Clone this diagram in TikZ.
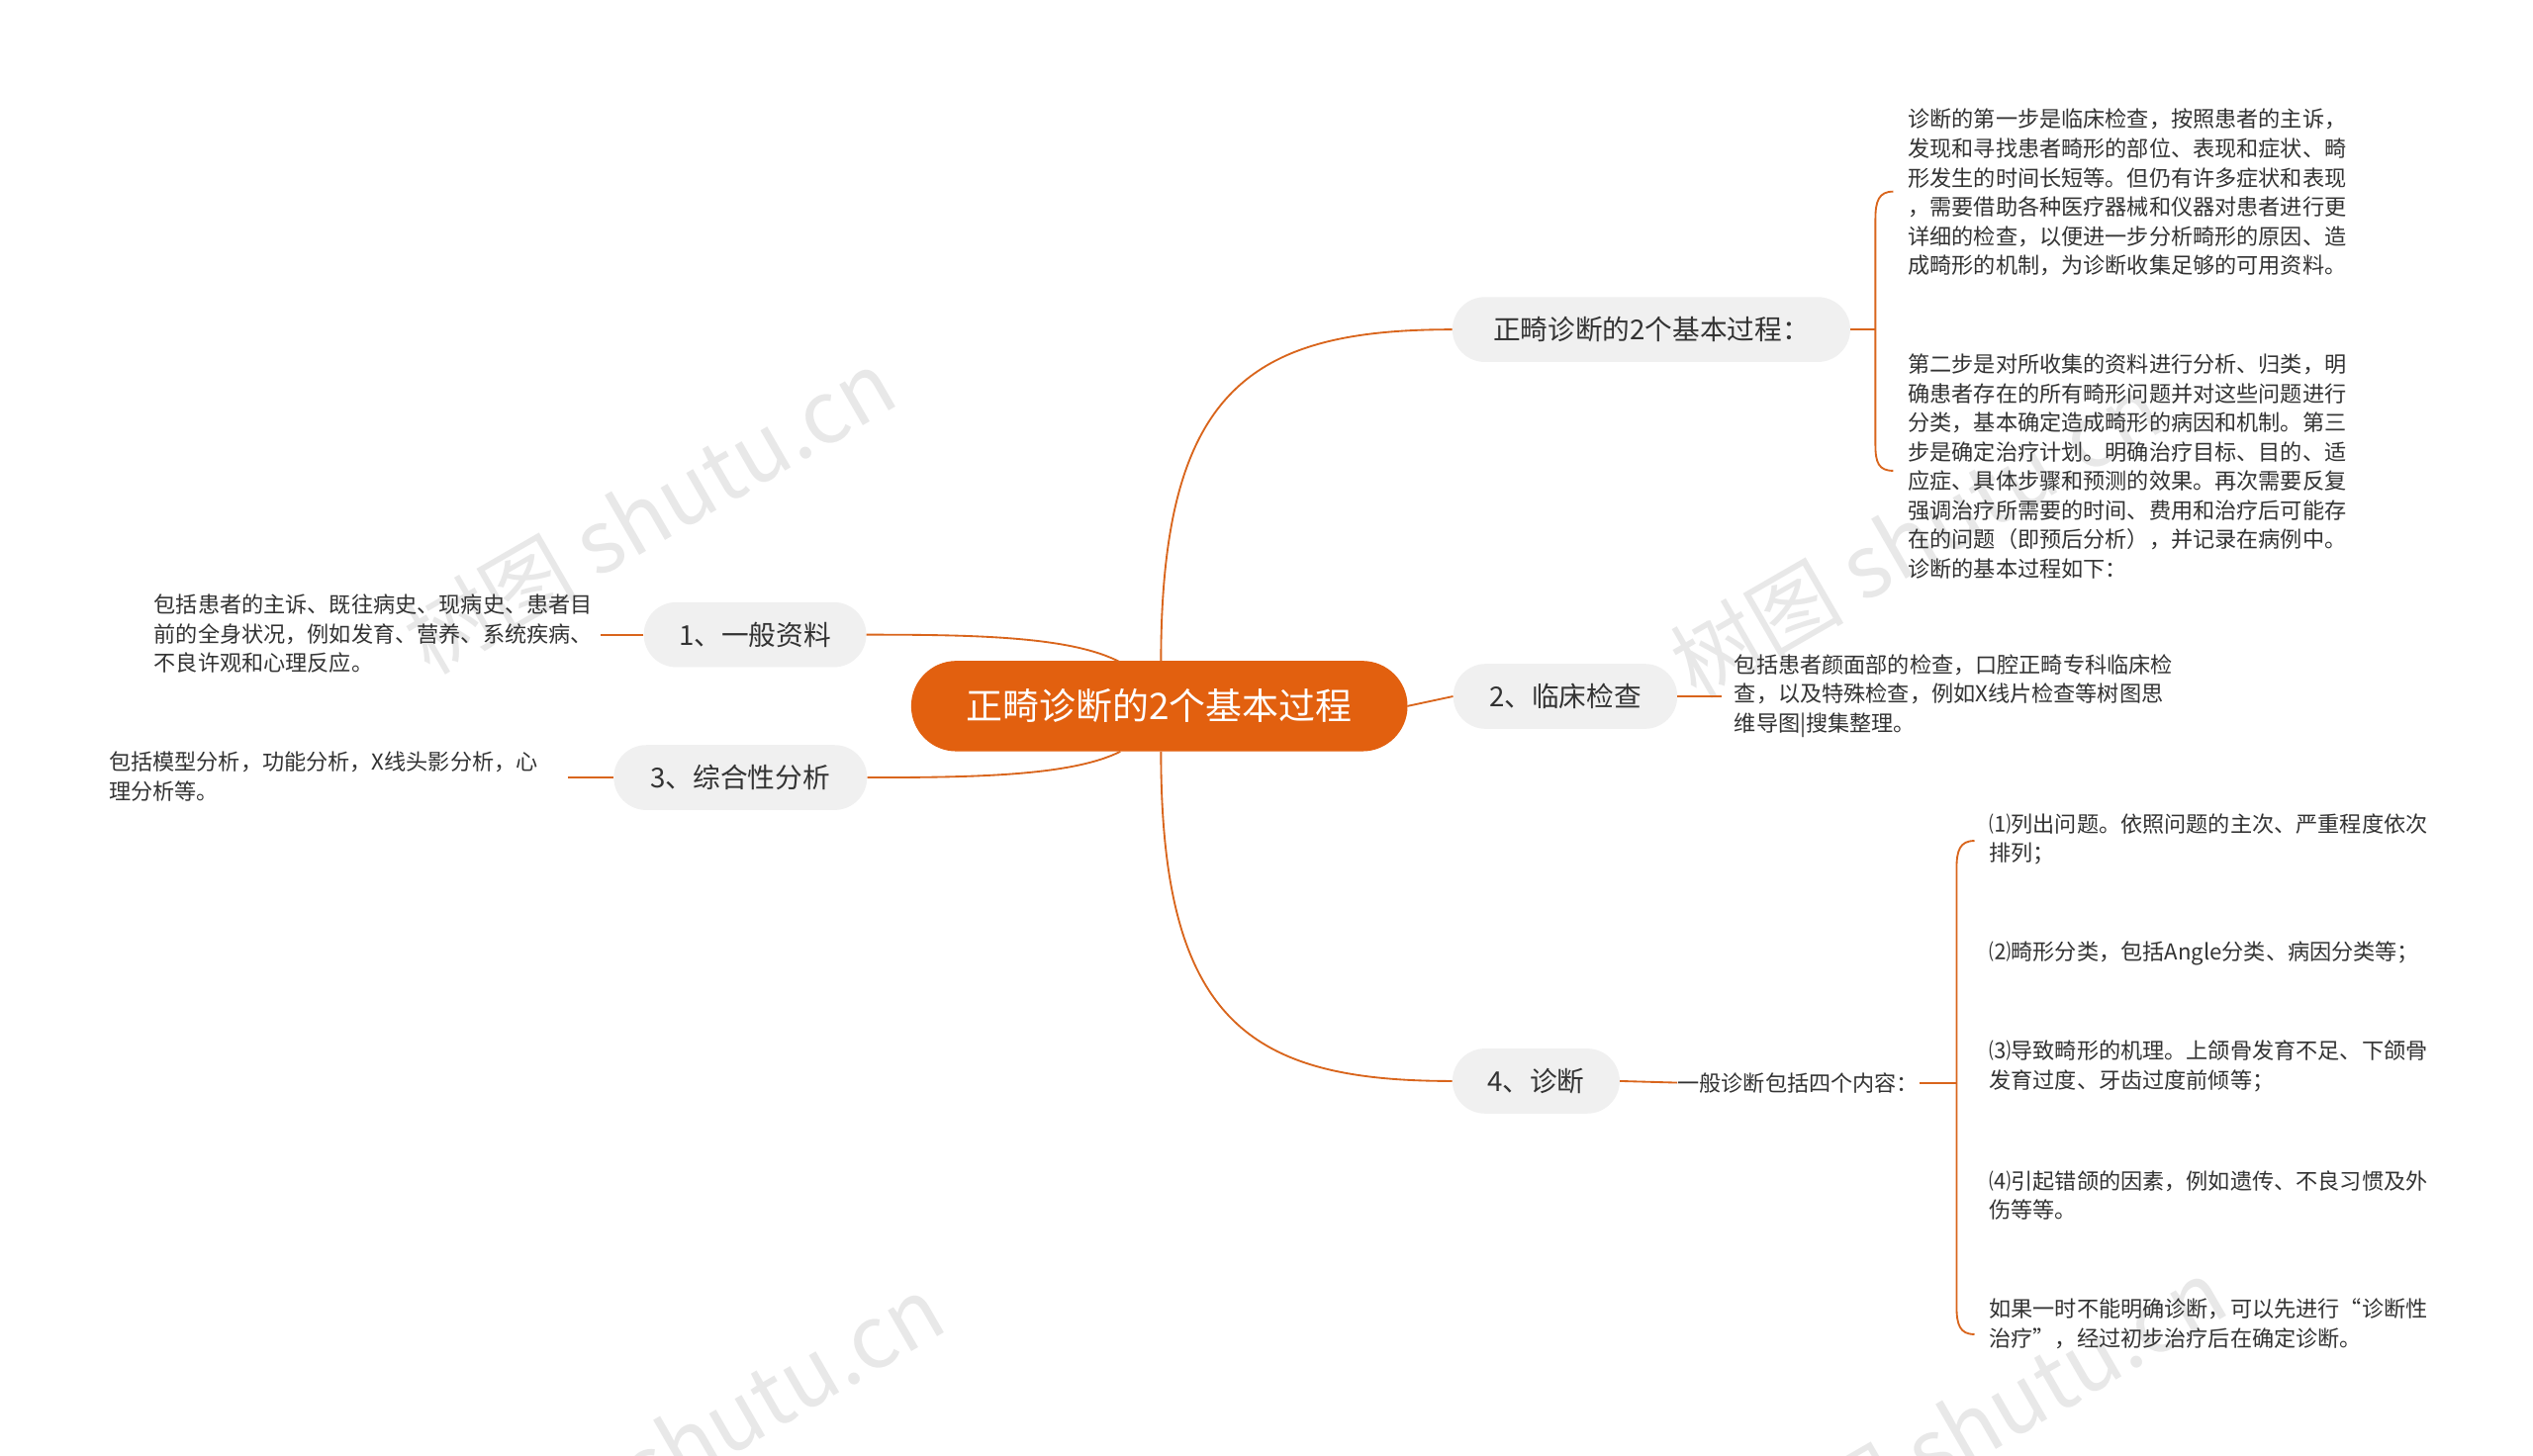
\documentclass[tikz,border=0pt]{standalone}
\usepackage{fontspec}
\setmainfont{Noto Sans CJK SC}
\definecolor{corg}{HTML}{E2600F}
\definecolor{lorg}{HTML}{D9651C}
\begin{document}
\begin{tikzpicture}[x=0.05cm,y=-0.05cm,
  cnode/.style={fill=corg, rounded corners=27.5*0.05cm, text=white, font=\fontsize{32}{36}\selectfont, minimum width=305*0.05cm, minimum height=55*0.05cm, inner sep=0pt, draw=corg, line width=1pt},
  bnode/.style={fill=gray!12, rounded corners=20*0.05cm, font=\fontsize{24}{28}\selectfont, minimum height=40*0.05cm, inner sep=0pt, text=black!80},
  leaf/.style={font=\fontsize{19.2}{25.6}\selectfont, align=left, anchor=north west, inner sep=0pt, text=black!80},
  conn/.style={draw=lorg, line width=1.6pt},
  wm/.style={text=gray, opacity=0.18, font=\fontsize{76}{76}\selectfont, rotate=30}]
\useasboundingbox (0,0) rectangle (1560,896.4);
\fill[white] (0,0) rectangle (1560,896.4);
% watermarks
\node[wm] at (400,315) {树图 shutu.cn};
\node[wm] at (1180,330) {树图 shutu.cn};
\node[wm] at (430,885) {树图 shutu.cn};
\node[wm] at (1220,875) {树图 shutu.cn};
% nodes
\node[cnode] (c) at (714,435) {正畸诊断的2个基本过程};
\node[bnode, minimum width=245*0.05cm] (b1) at (1017,203) {正畸诊断的2个基本过程：};
\node[bnode, minimum width=138*0.05cm] (b2) at (964,429) {2、临床检查};
\node[bnode, minimum width=103*0.05cm] (b4) at (946,666) {4、诊断};
\node[bnode, minimum width=137*0.05cm] (l1) at (465,391) {1、一般资料};
\node[bnode, minimum width=156*0.05cm] (l3) at (456,479) {3、综合性分析};
\coordinate (ct) at (715,408);
\coordinate (cb) at (715,463);
\coordinate (ctl) at (690,408);
\coordinate (cbl) at (690,463);
% connectors
\draw[conn] (ct) .. controls (715,240) and (770,203) .. (b1.west);
\draw[conn] (c.east) -- (b2.west);
\draw[conn] (cb) .. controls (715,630) and (770,666) .. (b4.west);
\draw[conn] (ctl) .. controls (660,392) and (600,391) .. (l1.east);
\draw[conn] (cbl) .. controls (660,478) and (600,479) .. (l3.east);
% b1 leaves
\coordinate (br1) at (1155,203);
\draw[conn] (b1.east) -- (br1);
\draw[conn] (1166,118) .. controls (1157,118) and (1155,124) .. (1155,135) -- (1155,274) .. controls (1155,285) and (1157,290) .. (1166,290);
\node[leaf] (t1) at (1175,67) {诊断的第一步是临床检查，按照患者的主诉，\\发现和寻找患者畸形的部位、表现和症状、畸\\形发生的时间长短等。但仍有许多症状和表现\\，需要借助各种医疗器械和仪器对患者进行更\\详细的检查，以便进一步分析畸形的原因、造\\成畸形的机制，为诊断收集足够的可用资料。};
\node[leaf] (t2) at (1175,218) {第二步是对所收集的资料进行分析、归类，明\\确患者存在的所有畸形问题并对这些问题进行\\分类，基本确定造成畸形的病因和机制。第三\\步是确定治疗计划。明确治疗目标、目的、适\\应症、具体步骤和预测的效果。再次需要反复\\强调治疗所需要的时间、费用和治疗后可能存\\在的问题（即预后分析），并记录在病例中。\\诊断的基本过程如下：};
% b2 leaf
\coordinate (e2) at (1060,429);
\draw[conn] (b2.east) -- (e2);
\node[leaf] (t3) at (1068,403) {包括患者颜面部的检查，口腔正畸专科临床检\\查，以及特殊检查，例如X线片检查等树图思\\维导图|搜集整理。};
% b4 leaves
\node[leaf, anchor=west] (t4) at (1033,667) {一般诊断包括四个内容：};
\draw[conn] (b4.east) -- (t4.west);
\draw[conn] (1182,667) -- (1205,667);
\draw[conn] (1216,518) .. controls (1207,518) and (1205,524) .. (1205,535) -- (1205,805) .. controls (1205,816) and (1207,822) .. (1216,822);
\node[leaf] (s1) at (1225,501) {⑴列出问题。依照问题的主次、严重程度依次\\排列；};
\node[leaf] (s2) at (1225,580) {⑵畸形分类，包括Angle分类、病因分类等；};
\node[leaf] (s3) at (1225,641) {⑶导致畸形的机理。上颌骨发育不足、下颌骨\\发育过度、牙齿过度前倾等；};
\node[leaf] (s4) at (1225,721) {⑷引起错颌的因素，例如遗传、不良习惯及外\\伤等等。};
\node[leaf] (s5) at (1225,800) {如果一时不能明确诊断，可以先进行“诊断性\\治疗”，经过初步治疗后在确定诊断。};
% left leaves
\node[leaf, anchor=north east] (t5) at (365,366) {包括患者的主诉、既往病史、现病史、患者目\\前的全身状况，例如发育、营养、系统疾病、\\不良许观和心理反应。};
\draw[conn] (l1.west) -- (370,391);
\node[leaf] (t6) at (67,463) {包括模型分析，功能分析，X线头影分析，心\\理分析等。};
\draw[conn] (l3.west) -- (350,479);
\end{tikzpicture}
\end{document}
